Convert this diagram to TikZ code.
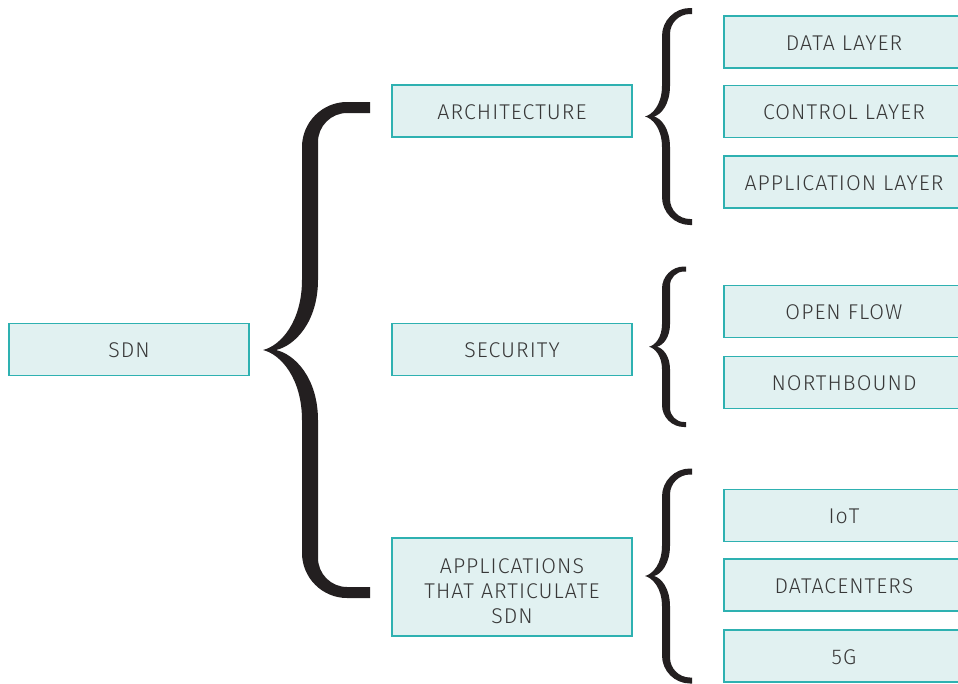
\documentclass[tikz,border=0pt]{standalone}
\usepackage{fontspec}
\setmainfont{Fira Sans}[UprightFont={* Light}, LetterSpace=5]
\definecolor{boxfill}{HTML}{E1F1F1}
\definecolor{boxline}{HTML}{2EB1B1}
\definecolor{textgray}{HTML}{383838}
\definecolor{braceblack}{HTML}{231F20}

% Filled curly brace opening to the right.
% #1 right end x, #2 top bar y, #3 bottom bar y, #4 outer stem x, #5 inner stem x,
% #6 tip x, #7 notch x, #8 bar thickness, #9 corner radius
\newcommand\curlybrace[9]{%
  \pgfmathsetmacro\bym{(#2+#3)/2}%
  \pgfmathsetmacro\bL{0.29*(#3-#2)/2}%
  \pgfmathsetmacro\byta{#2-#8/2}%
  \pgfmathsetmacro\bytb{#2+#8/2}%
  \pgfmathsetmacro\byba{#3-#8/2}%
  \pgfmathsetmacro\bybb{#3+#8/2}%
  \pgfmathsetmacro\bri{max(#9-(#5-#4),3)}%
  \fill[braceblack]
    (#1,\byta) -- ({#4+#9},\byta)
      .. controls ({#4+0.45*#9},\byta) and (#4,{\byta+0.45*#9}) .. (#4,{\byta+#9})
    -- (#4,{\bym-\bL})
      .. controls (#4,{\bym-0.4*\bL}) and ({#6+0.45*(#4-#6)},{\bym-0.06*\bL}) .. (#6,\bym)
      .. controls ({#6+0.45*(#4-#6)},{\bym+0.06*\bL}) and (#4,{\bym+0.4*\bL}) .. (#4,{\bym+\bL})
    -- (#4,{\bybb-#9})
      .. controls (#4,{\bybb-0.45*#9}) and ({#4+0.45*#9},\bybb) .. ({#4+#9},\bybb)
    -- (#1,\bybb) -- (#1,\byba) -- ({#5+\bri},\byba)
      .. controls ({#5+0.45*\bri},\byba) and (#5,{\byba-0.45*\bri}) .. (#5,{\byba-\bri})
    -- (#5,{\bym+\bL})
      .. controls (#5,{\bym+0.4*\bL}) and ({#7+0.45*(#5-#7)},{\bym+0.06*\bL}) .. (#7,\bym)
      .. controls ({#7+0.45*(#5-#7)},{\bym-0.06*\bL}) and (#5,{\bym-0.4*\bL}) .. (#5,{\bym-\bL})
    -- (#5,{\bytb+\bri})
      .. controls (#5,{\bytb+0.45*\bri}) and ({#5+0.45*\bri},\bytb) .. ({#5+\bri},\bytb)
    -- (#1,\bytb) -- cycle;%
}

\tikzset{
  topic/.style={draw=boxline, fill=boxfill, line width=1.1pt,
    minimum width=180pt, minimum height=39pt, inner sep=0pt,
    text height=12.5pt, text depth=0pt,
    text=textgray, align=center, font=\fontsize{16}{18.75}\selectfont},
  tallbox/.style={topic, minimum height=73.5pt, text height=54.5pt, text depth=0pt}
}

\begin{document}
\begin{tikzpicture}[x=0.75pt, y=-0.75pt]
  \useasboundingbox (0,0) rectangle (958,683);
  \clip (0,0) rectangle (958,683);

  % root and first level
  \node[topic] (sdn)  at (129,349.5) {SDN};
  \node[topic] (arch) at (512,111) {ARCHITECTURE};
  \node[topic] (sec)  at (512,349.5) {SECURITY};
  \node[tallbox] (apps) at (512,587) {APPLICATIONS\\THAT ARTICULATE\\SDN};

  % second level (boxes run past the right edge)
  \node[topic] (data) at (844,42)  {DATA LAYER};
  \node[topic] (ctrl) at (844,111.5) {CONTROL LAYER};
  \node[topic] (appl) at (844,182) {APPLICATION LAYER};
  \node[topic] (of)   at (844,311.5) {OPEN FLOW};
  \node[topic] (nb)   at (844,382.5) {NORTHBOUND};
  \node[topic] (iot)  at (844,515.5) {IoT};
  \node[topic] (dc)   at (844,585)   {DATACENTERS};
  \node[topic] (fiveg) at (844,656)  {5G};

  % grouping braces
  \curlybrace{370}{107.5}{592.5}{302}{318}{263}{276}{11}{45}
  \curlybrace{692}{11}{222}{662}{670}{645}{654}{6}{28}
  \curlybrace{686}{269}{424.5}{662}{670}{649}{657}{5}{22}
  \curlybrace{692}{471.5}{680.5}{662}{670}{645}{654}{6}{28}
\end{tikzpicture}
\end{document}
